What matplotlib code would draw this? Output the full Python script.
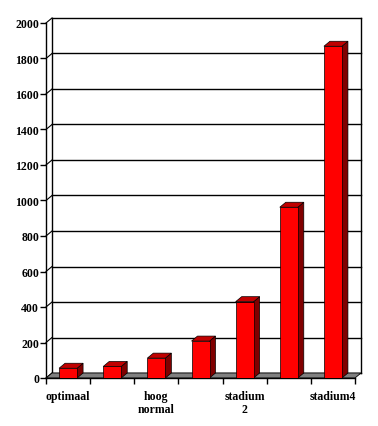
import matplotlib
matplotlib.use("Agg")
from matplotlib import pyplot as plt
from matplotlib.patches import Polygon, Rectangle

# data
categories = ["optimaal", "", "hoog\nnormal", "", "stadium\n2", "", "stadium4"]
values = [55, 65, 112, 208, 430, 962, 1869]
y_ticks = list(range(0, 2001, 200))

plt.rcParams['font.family'] = ['Liberation Serif', 'DejaVu Serif']

fig = plt.figure(figsize=(3.78, 4.27), dpi=100)
ax = fig.add_axes([46 / 378, 48 / 427, 316 / 378, 362 / 427])

n = len(values)
px_x = 309 / n          # pixels per category
px_y = 355 / 2000       # pixels per unit
dx = 6 / px_x           # depth offset in data units
dy = 5 / px_y
bw = 18 / px_x          # bar front width

ax.set_xlim(0, 316 / px_x)
ax.set_ylim(0, 362 / px_y)

# back wall gridlines + side wall diagonals
for v in y_ticks:
    ax.plot([dx, n + dx], [v + dy, v + dy], color='black', lw=1, zorder=1, clip_on=False)
    ax.plot([0, dx], [v, v + dy], color='black', lw=0.8, zorder=1, clip_on=False)
ax.plot([dx, dx], [dy, 2000 + dy], color='black', lw=1, zorder=1, clip_on=False)
ax.plot([n + dx, n + dx], [dy, 2000 + dy], color='black', lw=1, zorder=1, clip_on=False)

# floor
ax.add_patch(Polygon([(0, 0), (n, 0), (n + dx, dy), (dx, dy)], closed=True,
                     facecolor='#808080', edgecolor='black', lw=0.6, zorder=2, clip_on=False))

# 3d bars
for i, v in enumerate(values):
    c = i + 0.5
    x0, x1 = c - bw / 2, c + bw / 2
    ax.add_patch(Polygon([(x1, 0), (x1 + dx, dy), (x1 + dx, v + dy), (x1, v)], closed=True,
                         facecolor='#800000', edgecolor='black', lw=0.5, zorder=3))
    ax.add_patch(Polygon([(x0, v), (x1, v), (x1 + dx, v + dy), (x0 + dx, v + dy)], closed=True,
                         facecolor='#C00000', edgecolor='black', lw=0.5, zorder=3))
    ax.add_patch(Rectangle((x0, 0), bw, v, facecolor='#FF0000', edgecolor='black',
                           lw=0.5, zorder=4))

for side in ['top', 'right']:
    ax.spines[side].set_visible(False)
ax.spines['left'].set_bounds(0, 2000)
ax.spines['bottom'].set_bounds(0, n)
ax.spines['left'].set_linewidth(1)
ax.spines['bottom'].set_linewidth(1)

ax.set_yticks(y_ticks)
ax.set_yticklabels([str(v) for v in y_ticks], fontsize=8.5, fontweight='bold')
ax.tick_params(axis='y', direction='out', length=4, width=1, pad=1)

ax.set_xticks(range(n + 1))
ax.set_xticklabels([])
ax.tick_params(axis='x', which='major', direction='out', length=4, width=1)
ax.set_xticks([i + 0.5 for i in range(n)], minor=True)
ax.set_xticklabels(categories, minor=True, fontsize=8.5, fontweight='bold', linespacing=1.05)
ax.tick_params(axis='x', which='minor', length=0, pad=9)

fig.savefig("out.png", dpi=100)
